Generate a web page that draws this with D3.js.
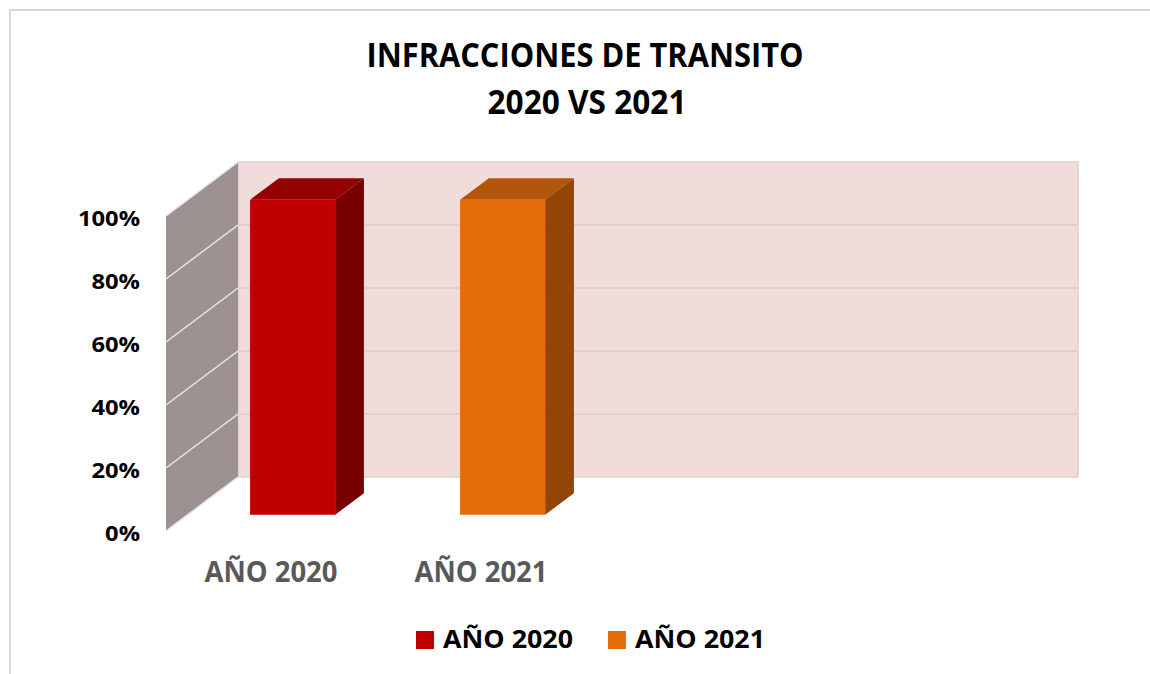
<!DOCTYPE html>
<html>
<head>
<meta charset="utf-8">
<script src="https://cdn.jsdelivr.net/npm/d3@7"></script>
<style>
  html, body { margin: 0; padding: 0; background: #ffffff; }
  svg { display: block; }
  text { font-family: "Open Sans", "Liberation Sans", sans-serif; font-weight: bold; }
</style>
</head>
<body>
<div id="chart"></div>
<script>
// ---- data ----
const titleLines = ["INFRACCIONES DE TRANSITO", "2020 VS 2021"];
const categories = ["AÑO 2020", "AÑO 2021"];
const emptySlots = ["slot3", "slot4"];
const seriesNames = ["AÑO 2020", "AÑO 2021"];
const values = [1.0, 1.0];
const yTicks = [0, 0.2, 0.4, 0.6, 0.8, 1.0];
const tickLabels = ["0%", "20%", "40%", "60%", "80%", "100%"];
const faceColors = [
  { front: "#c00000", top: "#920000", side: "#790000" },
  { front: "#e46c0a", top: "#b35508", side: "#934506" }
];

// ---- layout ----
const W = 1150, H = 674;
const svg = d3.select("#chart").append("svg").attr("width", W).attr("height", H);

// outer chart border (extends beyond the view on the right/bottom)
svg.append("rect").attr("x", 10).attr("y", 10).attr("width", 1200).attr("height", 700)
  .attr("fill", "#fff").attr("stroke", "#d9d9d9").attr("stroke-width", 2);

const depthX = 72, depthY = 54;   // 3D depth offset of the walls
const x = d3.scaleBand().domain(categories.concat(emptySlots))
  .range([166, 1006]).paddingInner(0.595).paddingOuter(0.2975);
const y = d3.scaleLinear().domain([0, 1]).range([531, 216]);

// project front-plane coordinates to a given depth (0 = front, 1 = back)
const P = (px, v, d) => [px + d * depthX, y(v) - d * depthY];
const poly = pts => "M" + pts.map(p => p.join(",")).join("L") + "Z";

const x0 = x.range()[0], x1 = x.range()[1];

// back wall
svg.append("path")
  .attr("d", poly([P(x0, 0, 1), P(x1, 0, 1), P(x1, 1, 1), P(x0, 1, 1)]))
  .attr("fill", "#f2dcdb").attr("stroke", "#dcd2d1").attr("stroke-width", 1.5);

// side wall
svg.append("path")
  .attr("d", poly([P(x0, 0, 0), P(x0, 0, 1), P(x0, 1, 1), P(x0, 1, 0)]))
  .attr("fill", "#9d9291");

// gridlines on back wall
svg.append("g").selectAll("line").data(yTicks.filter(v => v > 0 && v < 1)).join("line")
  .attr("x1", P(x0, 0, 1)[0]).attr("x2", P(x1, 0, 1)[0])
  .attr("y1", v => P(x0, v, 1)[1]).attr("y2", v => P(x0, v, 1)[1])
  .attr("stroke", "#d8cdcc").attr("stroke-width", 1.5);

// gridlines on side wall
svg.append("g").selectAll("line").data(yTicks).join("line")
  .attr("x1", v => P(x0, v, 0)[0]).attr("y1", v => P(x0, v, 0)[1])
  .attr("x2", v => P(x0, v, 1)[0]).attr("y2", v => P(x0, v, 1)[1])
  .attr("stroke", "#ebe5e4").attr("stroke-width", 1.5);

// bars
const d0 = 0.3, d1 = 0.7;
const bars = svg.append("g").selectAll("g").data(categories.map((c, i) => ({ c, v: values[i], col: faceColors[i] })))
  .join("g");
bars.each(function (d) {
  const g = d3.select(this);
  const l = x(d.c), r = x(d.c) + x.bandwidth();
  g.append("path").attr("d", poly([P(l, d.v, d0), P(r, d.v, d0), P(r, d.v, d1), P(l, d.v, d1)]))
    .attr("fill", d.col.top);
  g.append("path").attr("d", poly([P(r, 0, d0), P(r, 0, d1), P(r, d.v, d1), P(r, d.v, d0)]))
    .attr("fill", d.col.side);
  g.append("path").attr("d", poly([P(l, 0, d0), P(r, 0, d0), P(r, d.v, d0), P(l, d.v, d0)]))
    .attr("fill", d.col.front);
});

// set font size, then stretch/compress glyphs horizontally by a factor
// derived from a reference text and its target width
function styleGroup(sel, size, refNode, refWidth) {
  sel.style("font-size", size + "px");
  const k = refWidth / refNode.getComputedTextLength();
  sel.each(function () {
    const w = this.getComputedTextLength();
    d3.select(this).attr("textLength", (w * k).toFixed(1)).attr("lengthAdjust", "spacingAndGlyphs");
  });
}

// y axis labels
const ylab = svg.append("g").selectAll("text").data(yTicks).join("text")
  .attr("x", 140).attr("y", v => y(v) + 10)
  .attr("text-anchor", "end").attr("fill", "#000")
  .text((v, i) => tickLabels[i]);
styleGroup(ylab, 22, ylab.nodes()[yTicks.length - 1], 62);

// category labels
const clab = svg.append("g").selectAll("text").data(categories).join("text")
  .attr("x", c => x(c) + x.bandwidth() / 2).attr("y", 582)
  .attr("text-anchor", "middle").attr("fill", "#595959").text(c => c);
styleGroup(clab, 28, clab.nodes()[0], 133);

// title
const t1 = svg.append("text").attr("x", 585).attr("y", 67).attr("text-anchor", "middle").attr("fill", "#000").text(titleLines[0]);
const t2 = svg.append("text").attr("x", 587).attr("y", 114).attr("text-anchor", "middle").attr("fill", "#000").text(titleLines[1]);
styleGroup(t1, 33.5, t1.node(), 437);
styleGroup(t2, 33.5, t2.node(), 199);

// legend
const leg = svg.append("g");
let lx = 416;
seriesNames.forEach((s, i) => {
  leg.append("rect").attr("x", lx).attr("y", 631).attr("width", 18).attr("height", 18).attr("fill", faceColors[i].front);
  const t = leg.append("text").attr("x", lx + 27).attr("y", 648).attr("fill", "#000").text(s);
  styleGroup(t, 25, t.node(), 130);
  lx = lx + 27 + 130 + 35;
});
</script>
</body>
</html>
